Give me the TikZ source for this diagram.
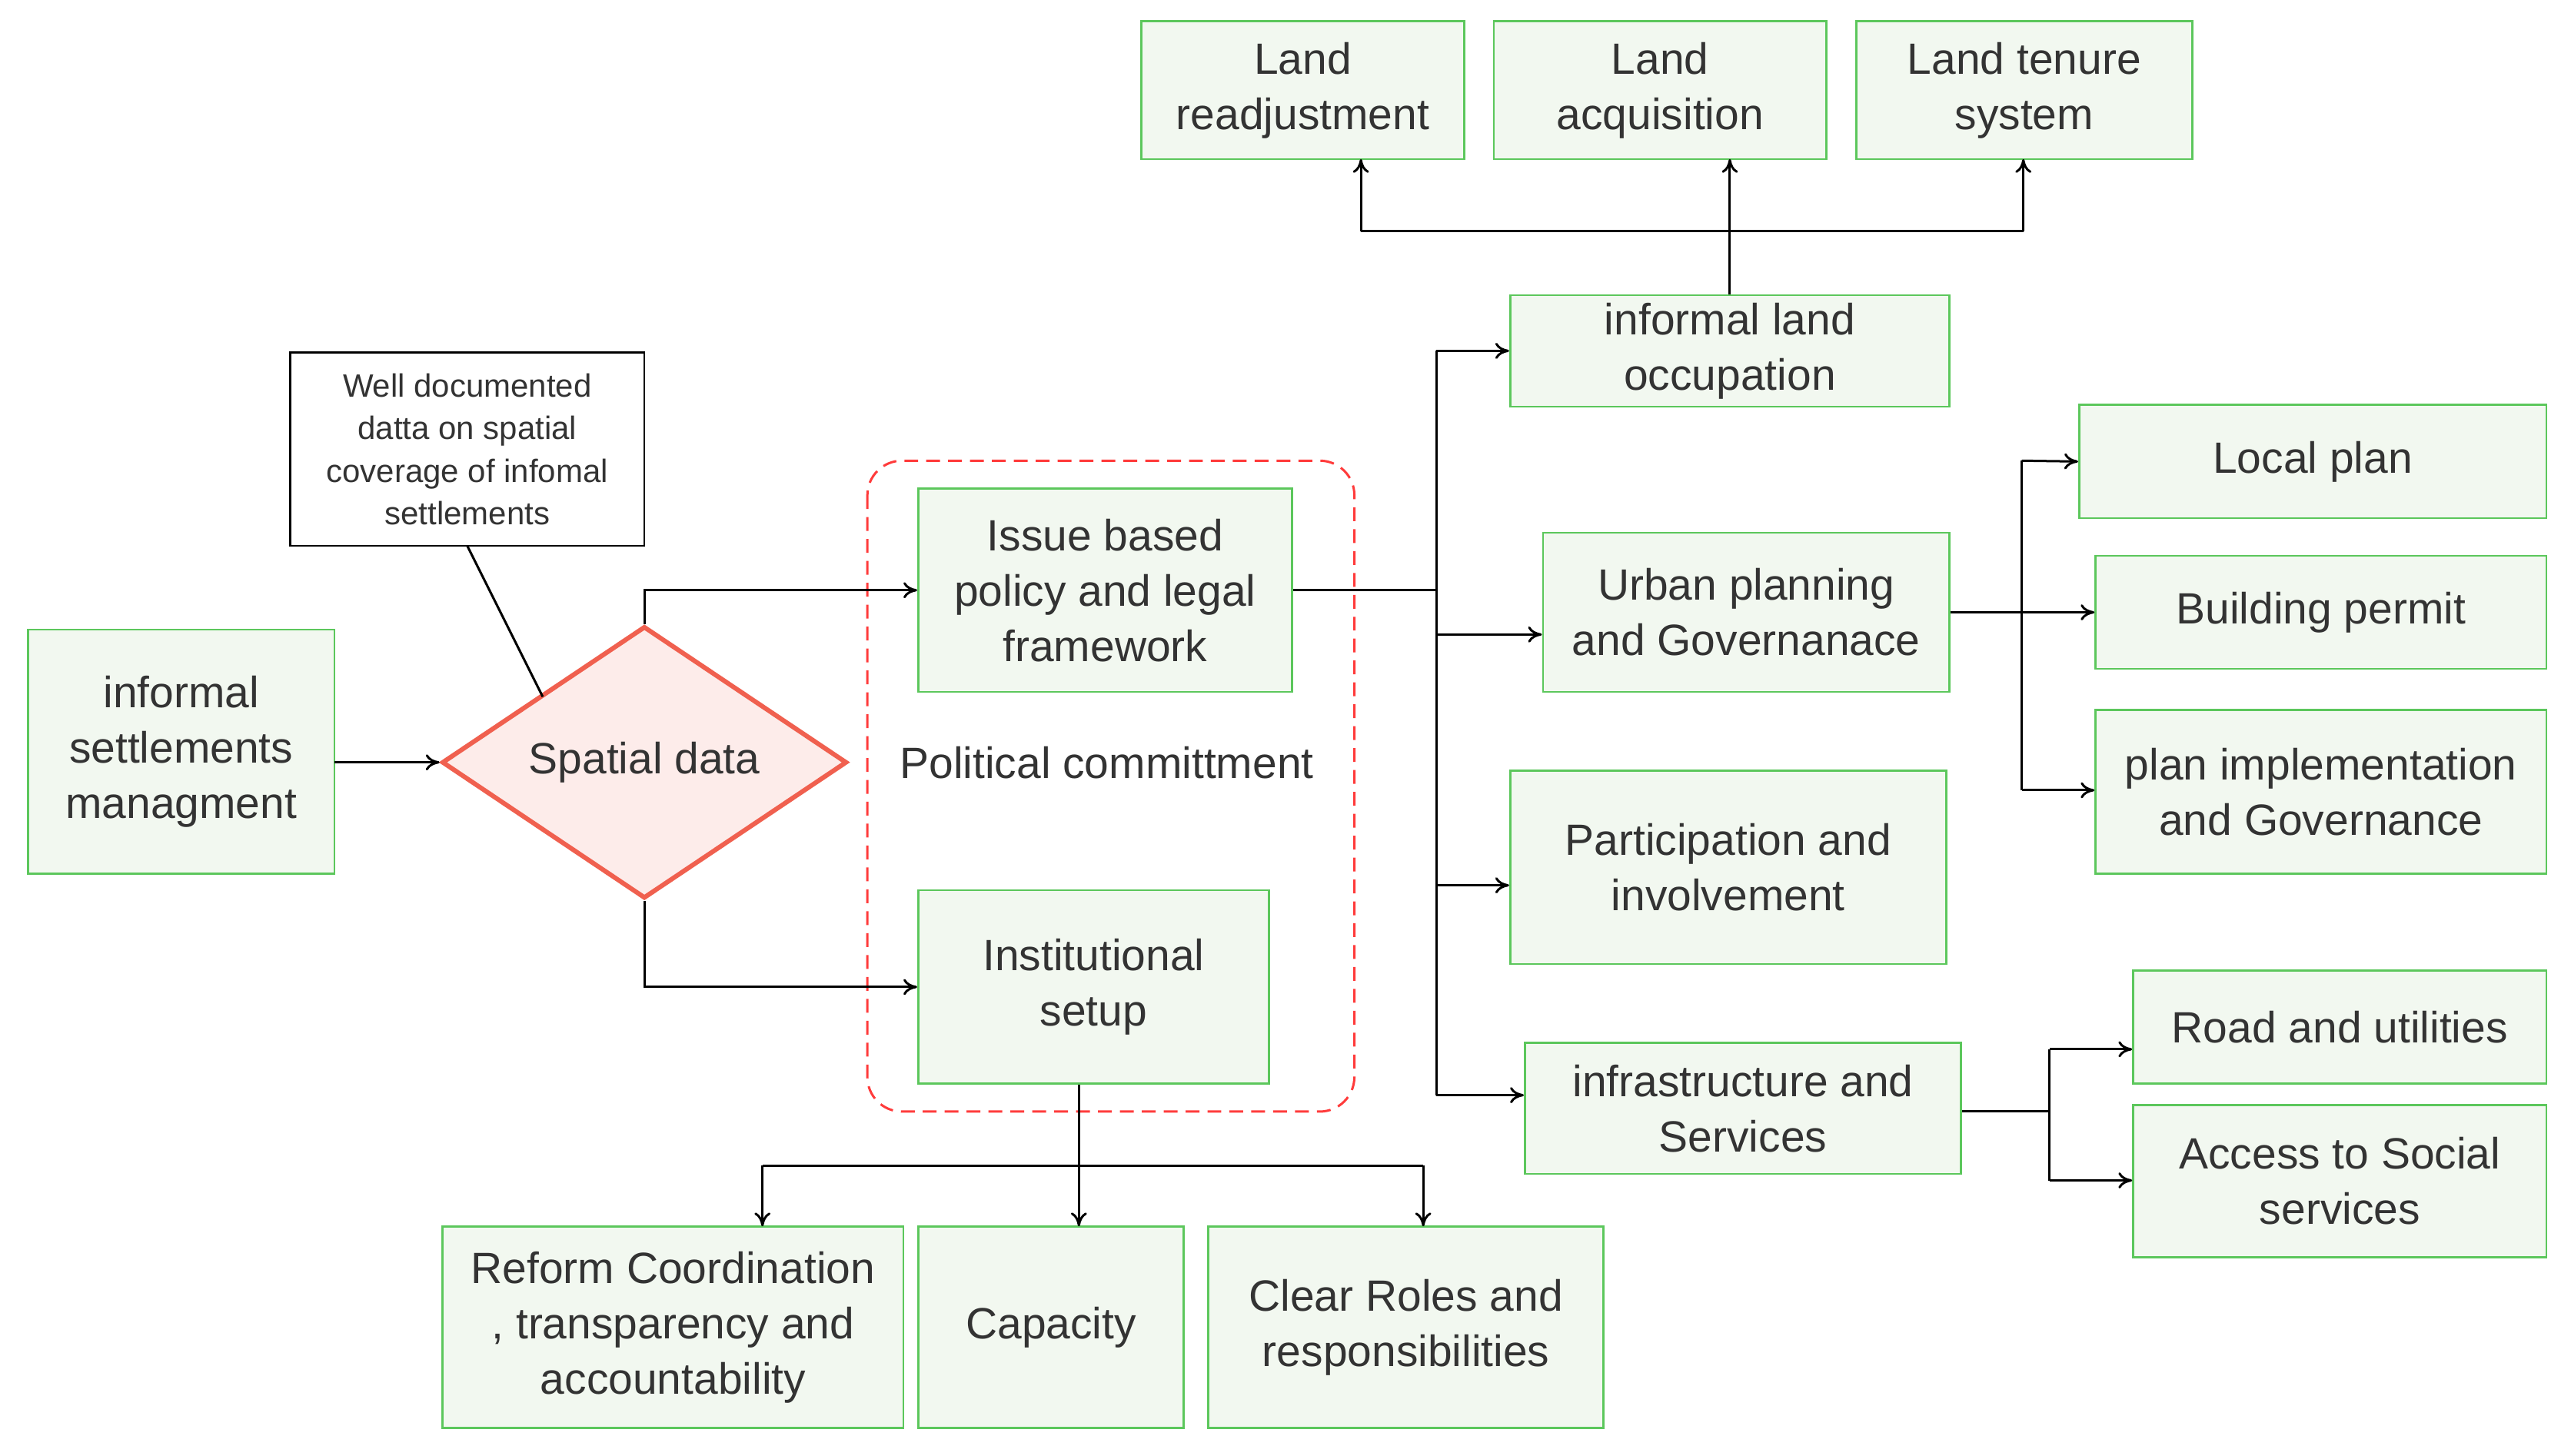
\documentclass[tikz,border=0pt]{standalone}
\usepackage{fontspec}
\setmainfont{Liberation Sans}
\usetikzlibrary{arrows.meta,shapes.geometric}
\definecolor{bfill}{HTML}{F2F8F0}
\definecolor{bdraw}{HTML}{5CC75C}
\definecolor{dfill}{HTML}{FDECEA}
\definecolor{ddraw}{HTML}{F0604F}
\definecolor{dashred}{HTML}{FF3B3B}
\definecolor{txt}{HTML}{333333}
\tikzset{
 x=0.05cm,y=-0.05cm,
 box/.style={draw=bdraw,fill=bfill,line width=1.8pt,align=center,inner sep=0pt,text=txt,font=\fontsize{38}{48}\selectfont},
 ln/.style={line width=2pt,black},
 arr/.style={ln,-{To[length=12pt,width=14pt]}},
}
\newcommand{\bx}[6]{\node[box,minimum width={(#4-#2)*0.05cm},minimum height={(#5-#3)*0.05cm}] (#1) at ({(#2+#4)/2},{(#3+#5)/2}) {#6};}
\begin{document}
\begin{tikzpicture}
\useasboundingbox (0,0) rectangle (1568,888);
\fill[white] (0,0) rectangle (1568,888);
\bx{lr}{696}{13}{893}{97}{Land\\readjustment}
\bx{la}{911}{13}{1114}{97}{Land\\acquisition}
\bx{lt}{1132}{13}{1337}{97}{Land tenure\\system}
\bx{ilo}{921}{180}{1189}{248}{informal land\\occupation}
\bx{lp}{1268}{247}{1553}{316}{Local plan}
\bx{up}{941}{325}{1189}{422}{Urban planning\\and Governanace}
\bx{bp}{1278}{339}{1553}{408}{Building permit}
\bx{pi}{1278}{433}{1553}{533}{plan implementation\\and Governance}
\bx{pa}{921}{470}{1187}{588}{Participation and\\involvement}
\bx{ru}{1301}{592}{1553}{661}{Road and utilities}
\bx{as}{1301}{674}{1553}{767}{Access to Social\\services}
\bx{inf}{930}{636}{1196}{716}{infrastructure and\\Services}
\bx{ism}{17}{384}{204}{533}{informal\\settlements\\managment}
\bx{ib}{560}{298}{788}{422}{Issue based\\policy and legal\\framework}
\bx{is}{560}{543}{774}{661}{Institutional\\setup}
\bx{rc}{270}{748}{551}{871}{Reform Coordination\\, transparency and\\accountability}
\bx{cap}{560}{748}{722}{871}{Capacity}
\bx{cr}{737}{748}{978}{871}{Clear Roles and\\responsibilities}
\node[draw=black,fill=white,line width=1.6pt,align=center,inner sep=0pt,minimum width={216*0.05cm},minimum height={118*0.05cm},font=\fontsize{28}{37}\selectfont,text=txt] (wd) at (285,274) {Well documented\\datta on spatial\\coverage of  infomal\\settlements};
\node[diamond,draw=ddraw,fill=dfill,line width=4pt,inner sep=0pt,minimum width={247*0.05cm},minimum height={165*0.05cm},font=\fontsize{38}{48}\selectfont,text=txt] (sd) at (393,465) {Spatial data};
\draw[dashred,line width=2pt,dash pattern=on 12pt off 7pt,rounded corners=30pt] (529,281) rectangle (826,678);
\node[font=\fontsize{38}{48}\selectfont,text=txt] (pc) at (675,465) {Political committment};
% connectors
\coordinate (im) at (204,465);
\draw[arr] (im) -- (sd.west);
\coordinate (wdb) at (285,333);
\draw[ln] (wdb) -- (331,425);
\draw[arr] (sd.north) |- (ib.west);
\draw[arr] (sd.south) |- (is.west);
\coordinate (s1) at (876,360);
\coordinate (s1t) at (876,214);
\coordinate (s1b) at (876,668);
\draw[ln] (ib.east) -- (s1);
\draw[ln] (s1t) -- (s1b);
\draw[arr] (s1t) -- (ilo.west |- s1t);
\draw[arr] (876,387) -- (up.west |- 0,387);
\draw[arr] (876,540) -- (pa.west |- 0,540);
\draw[arr] (s1b) -- (inf.west |- s1b);
\coordinate (t1) at (1055,141);
\draw[ln] (ilo.north) -- (t1);
\draw[ln] (830,141) -- (1234,141);
\draw[arr] (830,141) -- (830,97);
\draw[arr] (t1) -- (1055,97);
\draw[arr] (1234,141) -- (1234,97);
\draw[arr] (up.east |- bp.west) -- (bp.west);
\draw[ln] (1233,281) -- (1233,482);
\draw[arr] (1233,281) -- (lp.west);
\draw[arr] (1233,482) -- (pi.west |- 0,482);
\coordinate (r1) at (1250,678);
\draw[ln] (inf.east |- r1) -- (r1);
\draw[ln] (1250,640) -- (1250,720);
\draw[arr] (1250,640) -- (ru.west |- 0,640);
\draw[arr] (1250,720) -- (as.west |- 0,720);
\draw[arr] (is.south -| 658,0) -- (658,748);
\draw[ln] (465,711) -- (868,711);
\draw[arr] (465,711) -- (465,748);
\draw[arr] (868,711) -- (868,748);
\end{tikzpicture}
\end{document}
